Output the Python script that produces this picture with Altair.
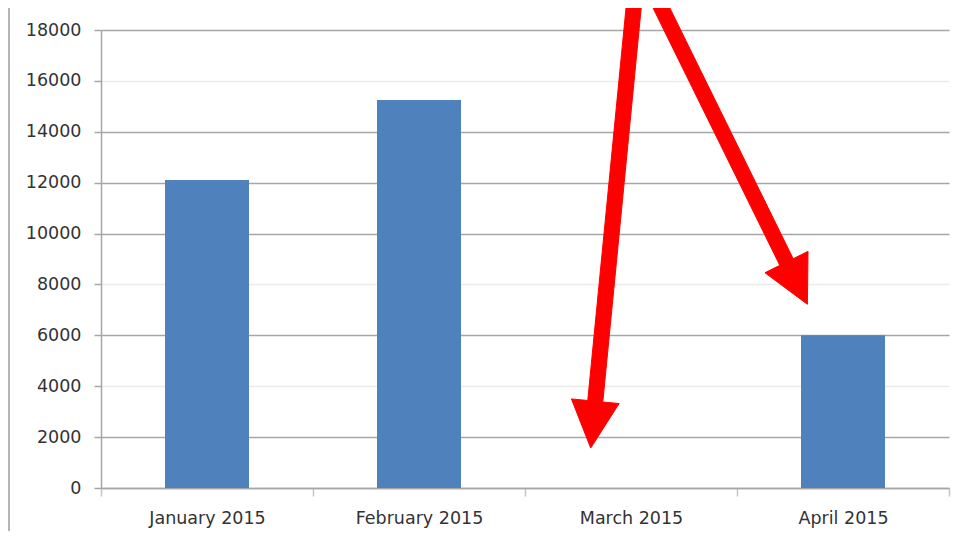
import altair as alt
import pandas as pd

# ---- data ----
months = ["January 2015", "February 2015", "March 2015", "April 2015"]
sales = [12100, 15250, 0, 6000]
y_ticks = [0, 2000, 4000, 6000, 8000, 10000, 12000, 14000, 16000, 18000]
faint_grid = [4000, 8000, 16000]

# red annotation arrows, outline vertices in data units
# (x: category widths from the left edge of the plot, y: value axis)
arrow1_x = [2.485, 2.556, 2.367, 2.444, 2.310, 2.219, 2.296, 2.485]
arrow1_y = [19600, 19540, 3380, 3320, 1570, 3500, 3440, 19600]
arrow2_x = [2.634, 3.265, 3.335, 3.332, 3.132, 3.202, 2.570, 2.634]
arrow2_y = [19700, 9010, 9300, 7220, 8460, 8750, 19440, 19700]

bars_df = pd.DataFrame({"month": months, "sales": sales})
arrows_df = pd.concat([
    pd.DataFrame({"arrow": "a1", "ax": arrow1_x, "ay": arrow1_y, "seq": range(len(arrow1_x))}),
    pd.DataFrame({"arrow": "a2", "ax": arrow2_x, "ay": arrow2_y, "seq": range(len(arrow2_x))}),
], ignore_index=True)

FONT = "DejaVu Sans"
GRID = "#a6a6a6"
ydom = [0, 18000]

faint_test = " || ".join(f"datum.value == {v}" for v in faint_grid)

frame = alt.Chart(pd.DataFrame({"k": [0]})).mark_rule(
    color="#b4b4b4", strokeWidth=2
).encode(x=alt.value(-92), y=alt.value(-22), y2=alt.value(501))

bars = alt.Chart(bars_df).mark_bar(color="#4F81BD", size=84).encode(
    x=alt.X(
        "month:N", sort=months,
        scale=alt.Scale(paddingInner=0, paddingOuter=0),
        axis=alt.Axis(
            title=None, labelAngle=0, tickBand="extent", grid=False,
            domainColor=GRID, domainWidth=1.5,
            tickColor="#c4c4c4", tickSize=8, tickWidth=1.5,
            labelPadding=13, labelFont=FONT, labelFontSize=17.5,
            labelColor="#333333",
        ),
    ),
    y=alt.Y(
        "sales:Q",
        scale=alt.Scale(domain=ydom, nice=False, zero=True),
        axis=alt.Axis(
            title=None, values=y_ticks, format="d", grid=True,
            gridColor=alt.condition(faint_test, alt.value("#ebebeb"), alt.value(GRID)),
            gridWidth=1.5,
            domainColor=GRID, domainWidth=1.5,
            tickColor=GRID, tickSize=7, tickWidth=1.5,
            labelPadding=13, labelFont=FONT, labelFontSize=17.5,
            labelColor="#333333",
        ),
    ),
)

arrows = alt.Chart(arrows_df).mark_line(
    color="#FF0000", fill="#FF0000", strokeWidth=1, clip=False
).encode(
    x=alt.X("ax:Q", scale=alt.Scale(domain=[0, 4], nice=False, zero=False), axis=None),
    y=alt.Y("ay:Q", scale=alt.Scale(domain=ydom, nice=False), axis=None),
    detail="arrow:N",
    order="seq:Q",
)

chart = alt.layer(frame, bars, arrows).resolve_scale(
    x="independent"
).resolve_axis(
    x="independent", y="independent"
).properties(
    width=848, height=458,
    autosize=alt.AutoSizeParams(type="none"),
    padding={"left": 93, "top": 22, "right": 21, "bottom": 43},
    background="white",
).configure_view(stroke=None)

chart.save("out.html", embed_options={"renderer": "svg", "actions": False})
